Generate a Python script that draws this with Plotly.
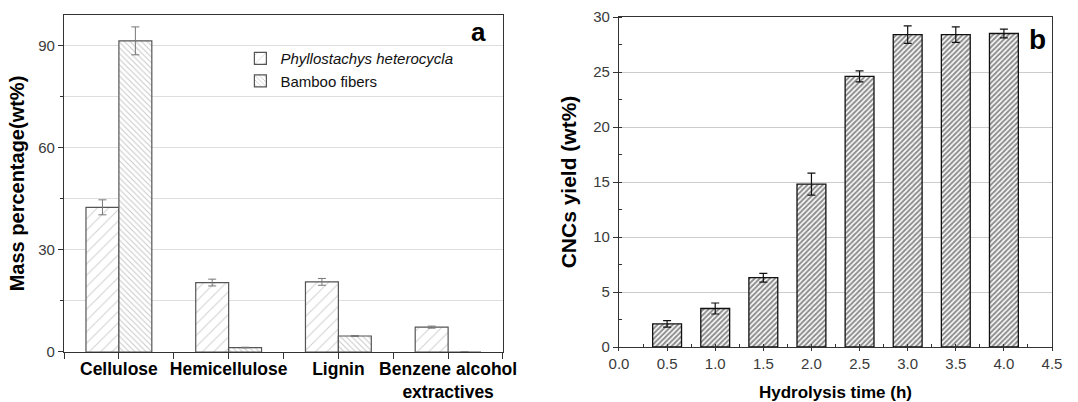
import plotly.graph_objects as go

# ---------------- data ----------------
components = ["Cellulose", "Hemicellulose", "Lignin", "Benzene alcohol<br>extractives"]
phyllo_vals = [42.5, 20.4, 20.6, 7.3]
phyllo_err = [2.2, 1.0, 1.0, 0.3]
fiber_vals = [91.4, 1.3, 4.7, 0]
fiber_err = [4.1, 0.1, 0.15, 0]

hydrolysis_time = [0.5, 1.0, 1.5, 2.0, 2.5, 3.0, 3.5, 4.0]
cnc_yield = [2.1, 3.5, 6.3, 14.8, 24.6, 28.4, 28.4, 28.5]
cnc_err = [0.3, 0.5, 0.4, 1.0, 0.5, 0.8, 0.7, 0.4]

FONT = "Liberation Sans, Arial, sans-serif"
AXC = "#333333"
TICKC = "#3a3a3a"

xpos = list(range(len(components)))

fig = go.Figure()

fig.add_trace(go.Bar(
    x=xpos, y=phyllo_vals, name="<i>Phyllostachys heterocycla</i>",
    xaxis="x", yaxis="y",
    error_y=dict(type="data", array=phyllo_err, color="#777777", thickness=1, width=4),
    marker=dict(color="white", line=dict(color="#555555", width=1.2),
                pattern=dict(shape="/", fgcolor="#a0a0a0", bgcolor="white", size=8, solidity=0.12)),
))
fig.add_trace(go.Bar(
    x=xpos, y=fiber_vals, name="Bamboo fibers",
    xaxis="x", yaxis="y",
    error_y=dict(type="data", array=fiber_err, color="#777777", thickness=1, width=4),
    marker=dict(color="white", line=dict(color="#555555", width=1.2),
                pattern=dict(shape="\\", fgcolor="#909090", bgcolor="white", size=4, solidity=0.25)),
))
fig.add_trace(go.Bar(
    x=hydrolysis_time, y=cnc_yield, name="CNCs yield", showlegend=False,
    xaxis="x2", yaxis="y2", width=0.3,
    error_y=dict(type="data", array=cnc_err, color="#111111", thickness=1.2, width=4),
    marker=dict(color="white", line=dict(color="#111111", width=1.3),
                pattern=dict(shape="/", fgcolor="#1e1e1e", bgcolor="white", size=3.6, solidity=0.55)),
))

half_steps = [i * 0.5 - 0.5 for i in range(2 * len(components) + 1)]

fig.update_layout(
    width=1078, height=402,
    margin=dict(l=0, r=0, t=0, b=0),
    paper_bgcolor="white", plot_bgcolor="white",
    font=dict(family=FONT, color="#000000"),
    barmode="group", bargap=0.4, bargroupgap=0,
    showlegend=True,
    legend=dict(x=0.223, y=0.895, xanchor="left", yanchor="top",
                bgcolor="rgba(0,0,0,0)", font=dict(size=15, color="#111111"),
                tracegroupgap=2),
    xaxis=dict(
        domain=[0.0594, 0.4666], anchor="y", range=[-0.5, 3.5],
        tickmode="array", tickvals=xpos, ticktext=components,
        tickfont=dict(size=17.5, weight="bold", color="#000000"),
        ticks="", ticklabelstandoff=1,
        minor=dict(tickmode="array", tickvals=half_steps, ticks="outside", ticklen=6, tickcolor=AXC),
        showline=True, linecolor=AXC, linewidth=1.3, mirror=True,
        showgrid=False, zeroline=False, automargin=False,
    ),
    yaxis=dict(
        domain=[0.1244, 0.9627], anchor="x", range=[0, 99],
        tick0=0, dtick=30, tickfont=dict(size=15, color=TICKC),
        ticks="outside", ticklen=5, tickcolor=AXC,
        minor=dict(dtick=15, ticks="outside", ticklen=3, tickcolor=AXC,
                   showgrid=True, gridcolor="#dedede", gridwidth=1),
        showgrid=True, gridcolor="#dedede", gridwidth=1,
        showline=True, linecolor=AXC, linewidth=1.3, mirror=True,
        zeroline=False, automargin=False,
        title=dict(text="<b>Mass percentage(wt%)</b>", font=dict(size=20), standoff=8),
    ),
    xaxis2=dict(
        domain=[0.5742, 0.9759], anchor="y2", range=[0, 4.5],
        tick0=0, dtick=0.5, tickformat=".1f", tickfont=dict(size=15, color=TICKC),
        ticks="outside", ticklen=3, tickcolor=AXC,
        minor=dict(dtick=0.25, ticks="inside", ticklen=3, tickcolor=AXC),
        showline=True, linecolor=AXC, linewidth=1.3, mirror=True,
        showgrid=False, zeroline=False, automargin=False,
        title=dict(text="<b>Hydrolysis time (h)</b>", font=dict(size=17), standoff=23),
    ),
    yaxis2=dict(
        domain=[0.1368, 0.9577], anchor="x2", range=[0, 30],
        tick0=0, dtick=5, tickfont=dict(size=15, color=TICKC),
        ticks="outside", ticklen=5, tickcolor=AXC,
        minor=dict(dtick=2.5, ticks="inside", ticklen=3, tickcolor=AXC),
        showgrid=True, gridcolor="#cccccc", gridwidth=1,
        showline=True, linecolor=AXC, linewidth=1.3, mirror=True,
        zeroline=False, automargin=False,
        title=dict(text="<b>CNCs yield (wt%)</b>", font=dict(size=21), standoff=10),
    ),
    annotations=[
        dict(text="<b>a</b>", xref="x domain", yref="y domain", x=0.965, y=1.0,
             xanchor="right", yanchor="top", showarrow=False, font=dict(size=26, color="#000")),
        dict(text="<b>b</b>", xref="x2 domain", yref="y2 domain", x=0.99, y=0.985,
             xanchor="right", yanchor="top", showarrow=False, font=dict(size=28, color="#000")),
    ],
)

fig.write_html("out.html", config={"displayModeBar": False},
               post_script="document.body.style.margin='0px';document.body.style.overflow='hidden';")
